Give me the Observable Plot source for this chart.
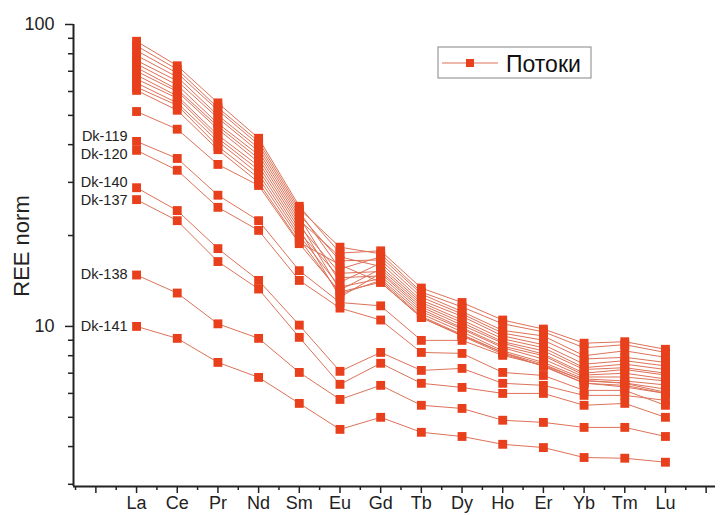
<!DOCTYPE html>
<html><head><meta charset="utf-8">
<script src="https://cdn.jsdelivr.net/npm/d3@7"></script>
<script src="https://cdn.jsdelivr.net/npm/@observablehq/plot@0.6"></script>
<style>body{margin:0;background:#fff} #chart{width:721px;height:515px}</style>
</head><body><div id="chart"></div>
<script>
// REE elements (x categories)
const elements = ["La","Ce","Pr","Nd","Sm","Eu","Gd","Tb","Dy","Ho","Er","Yb","Tm","Lu"];

// Labelled samples (chondrite-normalised)
const dk119 = [41.0, 36.0, 27.2, 22.4, 15.3, 12.0, 11.7, 8.99, 8.99, 8.02, 7.43, 6.63, 6.48, 6.05];
const dk120 = [38.3, 32.9, 24.8, 20.8, 14.2, 11.5, 10.5, 8.2, 8.14, 7.04, 6.88, 6.14, 6.14, 5.48];
const dk140 = [28.8, 24.2, 18.1, 14.2, 10.1, 7.1, 8.2, 7.15, 7.26, 6.48, 6.38, 5.91, 5.91, 5.69];
const dk137 = [26.3, 22.4, 16.4, 13.3, 9.2, 6.43, 7.55, 6.48, 6.28, 6.0, 6.0, 5.48, 5.56, 5.0];
const dk138 = [14.8, 12.9, 10.2, 9.13, 7.04, 5.73, 6.38, 5.48, 5.35, 4.89, 4.81, 4.63, 4.63, 4.32];
const dk141 = [10.0, 9.13, 7.6, 6.78, 5.56, 4.56, 5.0, 4.46, 4.32, 4.07, 3.97, 3.68, 3.66, 3.55];

// Other flow samples
const s01 = [88, 73, 55, 42, 25, 17.5, 17.8, 13.4, 12.0, 10.5, 9.8, 8.8, 8.9, 8.4];
const s02 = [85, 71, 53, 41, 24.5, 18.3, 17.4, 13.0, 11.6, 10.2, 9.6, 8.5, 8.7, 8.2];
const s03 = [82, 69, 52, 40, 24, 15.5, 17.0, 12.8, 11.2, 9.7, 9.3, 8.0, 8.3, 7.9];
const s04 = [79, 67, 50, 39, 23.5, 16.5, 16.6, 12.5, 11.0, 9.5, 9.0, 7.8, 7.9, 7.6];
const s05 = [76, 65, 49, 38, 23, 14.0, 16.2, 12.2, 10.8, 9.3, 8.7, 7.5, 7.7, 7.4];
const s06 = [74, 63, 47, 37, 22.5, 17.0, 15.8, 12.0, 10.5, 9.1, 8.5, 7.3, 7.5, 7.2];
const s07 = [72, 61, 46, 36, 22, 13.2, 15.5, 11.8, 10.3, 8.9, 8.3, 7.2, 7.3, 7.0];
const s08 = [70, 60, 45, 35, 21.5, 15.0, 15.2, 11.6, 10.1, 8.8, 8.1, 7.0, 7.2, 6.9];
const s09 = [68, 58, 43, 34, 21, 12.5, 15.0, 11.4, 9.9, 8.6, 8.0, 6.9, 7.0, 6.7];
const s10 = [66, 57, 42, 33, 20.5, 14.5, 14.7, 11.2, 9.8, 8.5, 7.8, 6.8, 6.8, 6.6];
const s11 = [64, 55, 41, 32, 20, 13.5, 14.4, 11.0, 9.6, 8.3, 7.6, 6.7, 6.6, 6.4];
const s12 = [62, 54, 39.5, 31, 19.5, 12.8, 14.2, 10.8, 9.4, 8.2, 7.5, 6.6, 6.5, 6.2];
const s13 = [60.5, 52, 38.5, 30, 19, 16.0, 14.0, 10.7, 9.3, 8.1, 7.4, 6.5, 6.3, 6.0];
const s14 = [51.5, 45.0, 34.4, 29.3, 18.8, 13.0, 14.0, 10.7, 9.34, 8.2, 7.37, 6.48, 6.38, 6.0];

const labelled = [["Dk-119", dk119], ["Dk-120", dk120], ["Dk-140", dk140],
                  ["Dk-137", dk137], ["Dk-138", dk138], ["Dk-141", dk141]];
const others = [["s01", s01], ["s02", s02], ["s03", s03], ["s04", s04], ["s05", s05],
                ["s06", s06], ["s07", s07], ["s08", s08], ["s09", s09], ["s10", s10],
                ["s11", s11], ["s12", s12], ["s13", s13], ["s14", s14]];

const yMajor = [10, 100];
const yMinor = [3, 4, 5, 6, 7, 8, 9, 20, 30, 40, 50, 60, 70, 80, 90];
const legendLabel = "Потоки";
const yLabel = "REE norm";

const rows = [];
[...others, ...labelled].forEach(([id, vals]) =>
  vals.forEach((v, i) => rows.push({id, i, el: elements[i], v})));

const xMin = -1.55, xMax = 14.23, yMin = 2.95, yMax = 100;
const xMajor = d3.range(-1, 15);
const xMinor = d3.range(-1.5, 14.1, 1);

const labelDy = {"Dk-119": -5, "Dk-120": 4, "Dk-140": -5, "Dk-137": 1, "Dk-138": -1, "Dk-141": 0};
const labelMarks = labelled.map(([name, vals]) =>
  Plot.text([{x: 0, y: vals[0], t: name}], {x: "x", y: "y", text: "t", textAnchor: "end",
    dx: -9, dy: labelDy[name], fontSize: 14.5, fill: "#222"}));

const red = "#e8401c";
const plot = Plot.plot({
  width: 721, height: 515,
  marginLeft: 73, marginRight: 6, marginTop: 24, marginBottom: 29,
  style: {fontFamily: "'Liberation Sans', Arial, sans-serif", background: "white", color: "#222"},
  x: {domain: [xMin, xMax]},
  y: {type: "log", domain: [yMin, yMax]},
  marks: [
    Plot.axisY(yMinor, {tickSize: 5, strokeWidth: 1.5, tickFormat: () => "", label: null}),
    Plot.axisY(yMajor, {tickSize: 8, tickPadding: 11, strokeWidth: 1.5, fontSize: 18, tickFormat: d => String(d), label: null}),
    Plot.axisX(xMinor, {tickSize: 4, strokeWidth: 1.5, tickFormat: () => "", label: null}),
    Plot.axisX(xMajor, {tickSize: 7, tickPadding: 3, strokeWidth: 1.5, fontSize: 18, tickFormat: i => elements[i] ?? "", label: null}),
    Plot.ruleX([xMin], {stroke: "#222", strokeWidth: 2}),
    Plot.ruleY([yMin], {stroke: "#222", strokeWidth: 2}),
    Plot.line(rows, {x: "i", y: "v", z: "id", stroke: "#dd7259", strokeWidth: 1}),
    Plot.dot(rows, {x: "i", y: "v", symbol: "square", r: 5, fill: red, stroke: "none"}),
    ...labelMarks
  ]
});

const svg = d3.select(plot);
svg.append("text").attr("transform", "translate(29,246) rotate(-90)")
  .attr("text-anchor", "middle").attr("font-size", 22).attr("fill", "#222")
  .text(yLabel);
const lg = svg.append("g");
lg.append("rect").attr("x", 438).attr("y", 47).attr("width", 153).attr("height", 31)
  .attr("fill", "white").attr("stroke", "#999").attr("stroke-width", 1.2);
lg.append("line").attr("x1", 442).attr("x2", 498).attr("y1", 63).attr("y2", 63)
  .attr("stroke", "#dd7259").attr("stroke-width", 1);
lg.append("rect").attr("x", 466).attr("y", 59).attr("width", 8).attr("height", 8).attr("fill", red);
lg.append("text").attr("x", 506).attr("y", 72).attr("text-anchor", "start")
  .attr("font-size", 23).attr("fill", "#111")
  .text(legendLabel);

document.getElementById("chart").appendChild(plot);
</script></body></html>
